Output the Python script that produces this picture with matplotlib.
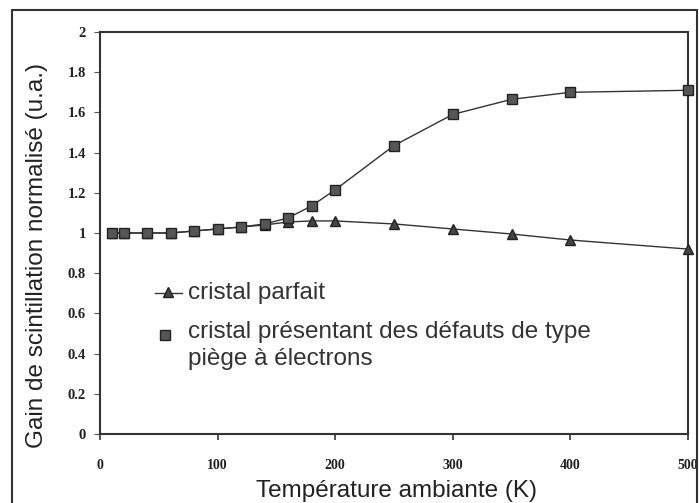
import matplotlib
matplotlib.use("Agg")
import matplotlib.pyplot as plt
from matplotlib.patches import Rectangle

# Température (K)
temp = [10, 20, 40, 60, 80, 100, 120, 140, 160, 180, 200, 250, 300, 350, 400, 500]

# gain normalisé, cristal parfait
gain_parfait = [1.0, 1.0, 1.0, 1.0, 1.01, 1.02, 1.03, 1.04, 1.055, 1.06, 1.06,
                1.045, 1.02, 0.995, 0.965, 0.92]

# gain normalisé, cristal avec pièges à électrons
gain_pieges = [1.0, 1.0, 1.0, 1.0, 1.01, 1.02, 1.03, 1.045, 1.075, 1.135, 1.215,
               1.435, 1.59, 1.665, 1.70, 1.71]

yticks = [0, 0.2, 0.4, 0.6, 0.8, 1, 1.2, 1.4, 1.6, 1.8, 2]
ytick_labels = ["0", "0.2", "0.4", "0.6", "0.8", "1", "1.2", "1.4", "1.6", "1.8", "2"]
xticks = [0, 100, 200, 300, 400, 500]

sans = "Liberation Sans"
serif = "Liberation Serif"

fig = plt.figure(figsize=(6.99, 5.03), dpi=100)
ax = fig.add_axes([100 / 699, 1 - 434 / 503, 588 / 699, 402 / 503])

# cadre autour de toute la figure
fig.patches.append(Rectangle((12 / 699, -0.02), 685 / 699, 1 - 10 / 503 + 0.02,
                             transform=fig.transFigure, fill=False,
                             edgecolor="#333333", linewidth=1.5))

ax.plot(temp, gain_parfait, color="#333333", linewidth=1.0, marker="^",
        markersize=7, markerfacecolor="#444444", markeredgecolor="#222222",
        clip_on=False, zorder=3)
ax.plot(temp, gain_pieges, color="#333333", linewidth=1.0, marker="s",
        markersize=7.5, markerfacecolor="#555555", markeredgecolor="#222222",
        clip_on=False, zorder=4)

ax.set_xlim(0, 500)
ax.set_ylim(0, 2)
ax.set_xticks(xticks)
ax.set_xticklabels([str(x) for x in xticks], fontfamily=serif,
                   fontweight="bold", fontsize=10, color="#222222")
ax.set_yticks(yticks)
ax.set_yticklabels(ytick_labels, fontfamily=serif, fontweight="bold",
                   fontsize=10.5, color="#222222")
ax.tick_params(axis="y", direction="out", length=4, width=0.8, pad=6,
               color="#555555")
ax.tick_params(axis="x", direction="out", length=4, width=1.2, pad=14,
               color="#333333")
for side in ax.spines:
    ax.spines[side].set_color("#333333")
    ax.spines[side].set_linewidth(1.5)

ax.set_xlabel("Température ambiante (K)", fontfamily=sans, fontsize=17.5,
              color="#222222")
ax.xaxis.set_label_coords(0.505, -0.115)
ax.set_ylabel("Gain de scintillation normalisé (u.a.)", fontfamily=sans,
              fontsize=17.5, color="#222222")
ax.yaxis.set_label_coords(-0.088, 0.445)

# légende dessinée à la main
ax.plot([47, 70], [0.70, 0.70], color="#333333", linewidth=1.0)
ax.plot([57.5], [0.705], marker="^", markersize=7, color="#444444",
        markeredgecolor="#222222")
ax.plot([55], [0.493], marker="s", markersize=7, color="#555555",
        markeredgecolor="#222222")
ax.text(74.5, 0.70, "cristal parfait", fontfamily=sans, fontsize=17.5,
        color="#333333", va="center")
ax.text(74.5, 0.507, "cristal présentant des défauts de type",
        fontfamily=sans, fontsize=17.5, color="#333333", va="center")
ax.text(74.5, 0.372, "piège à électrons",
        fontfamily=sans, fontsize=17.5, color="#333333", va="center")

fig.savefig("out.png", dpi=100)
